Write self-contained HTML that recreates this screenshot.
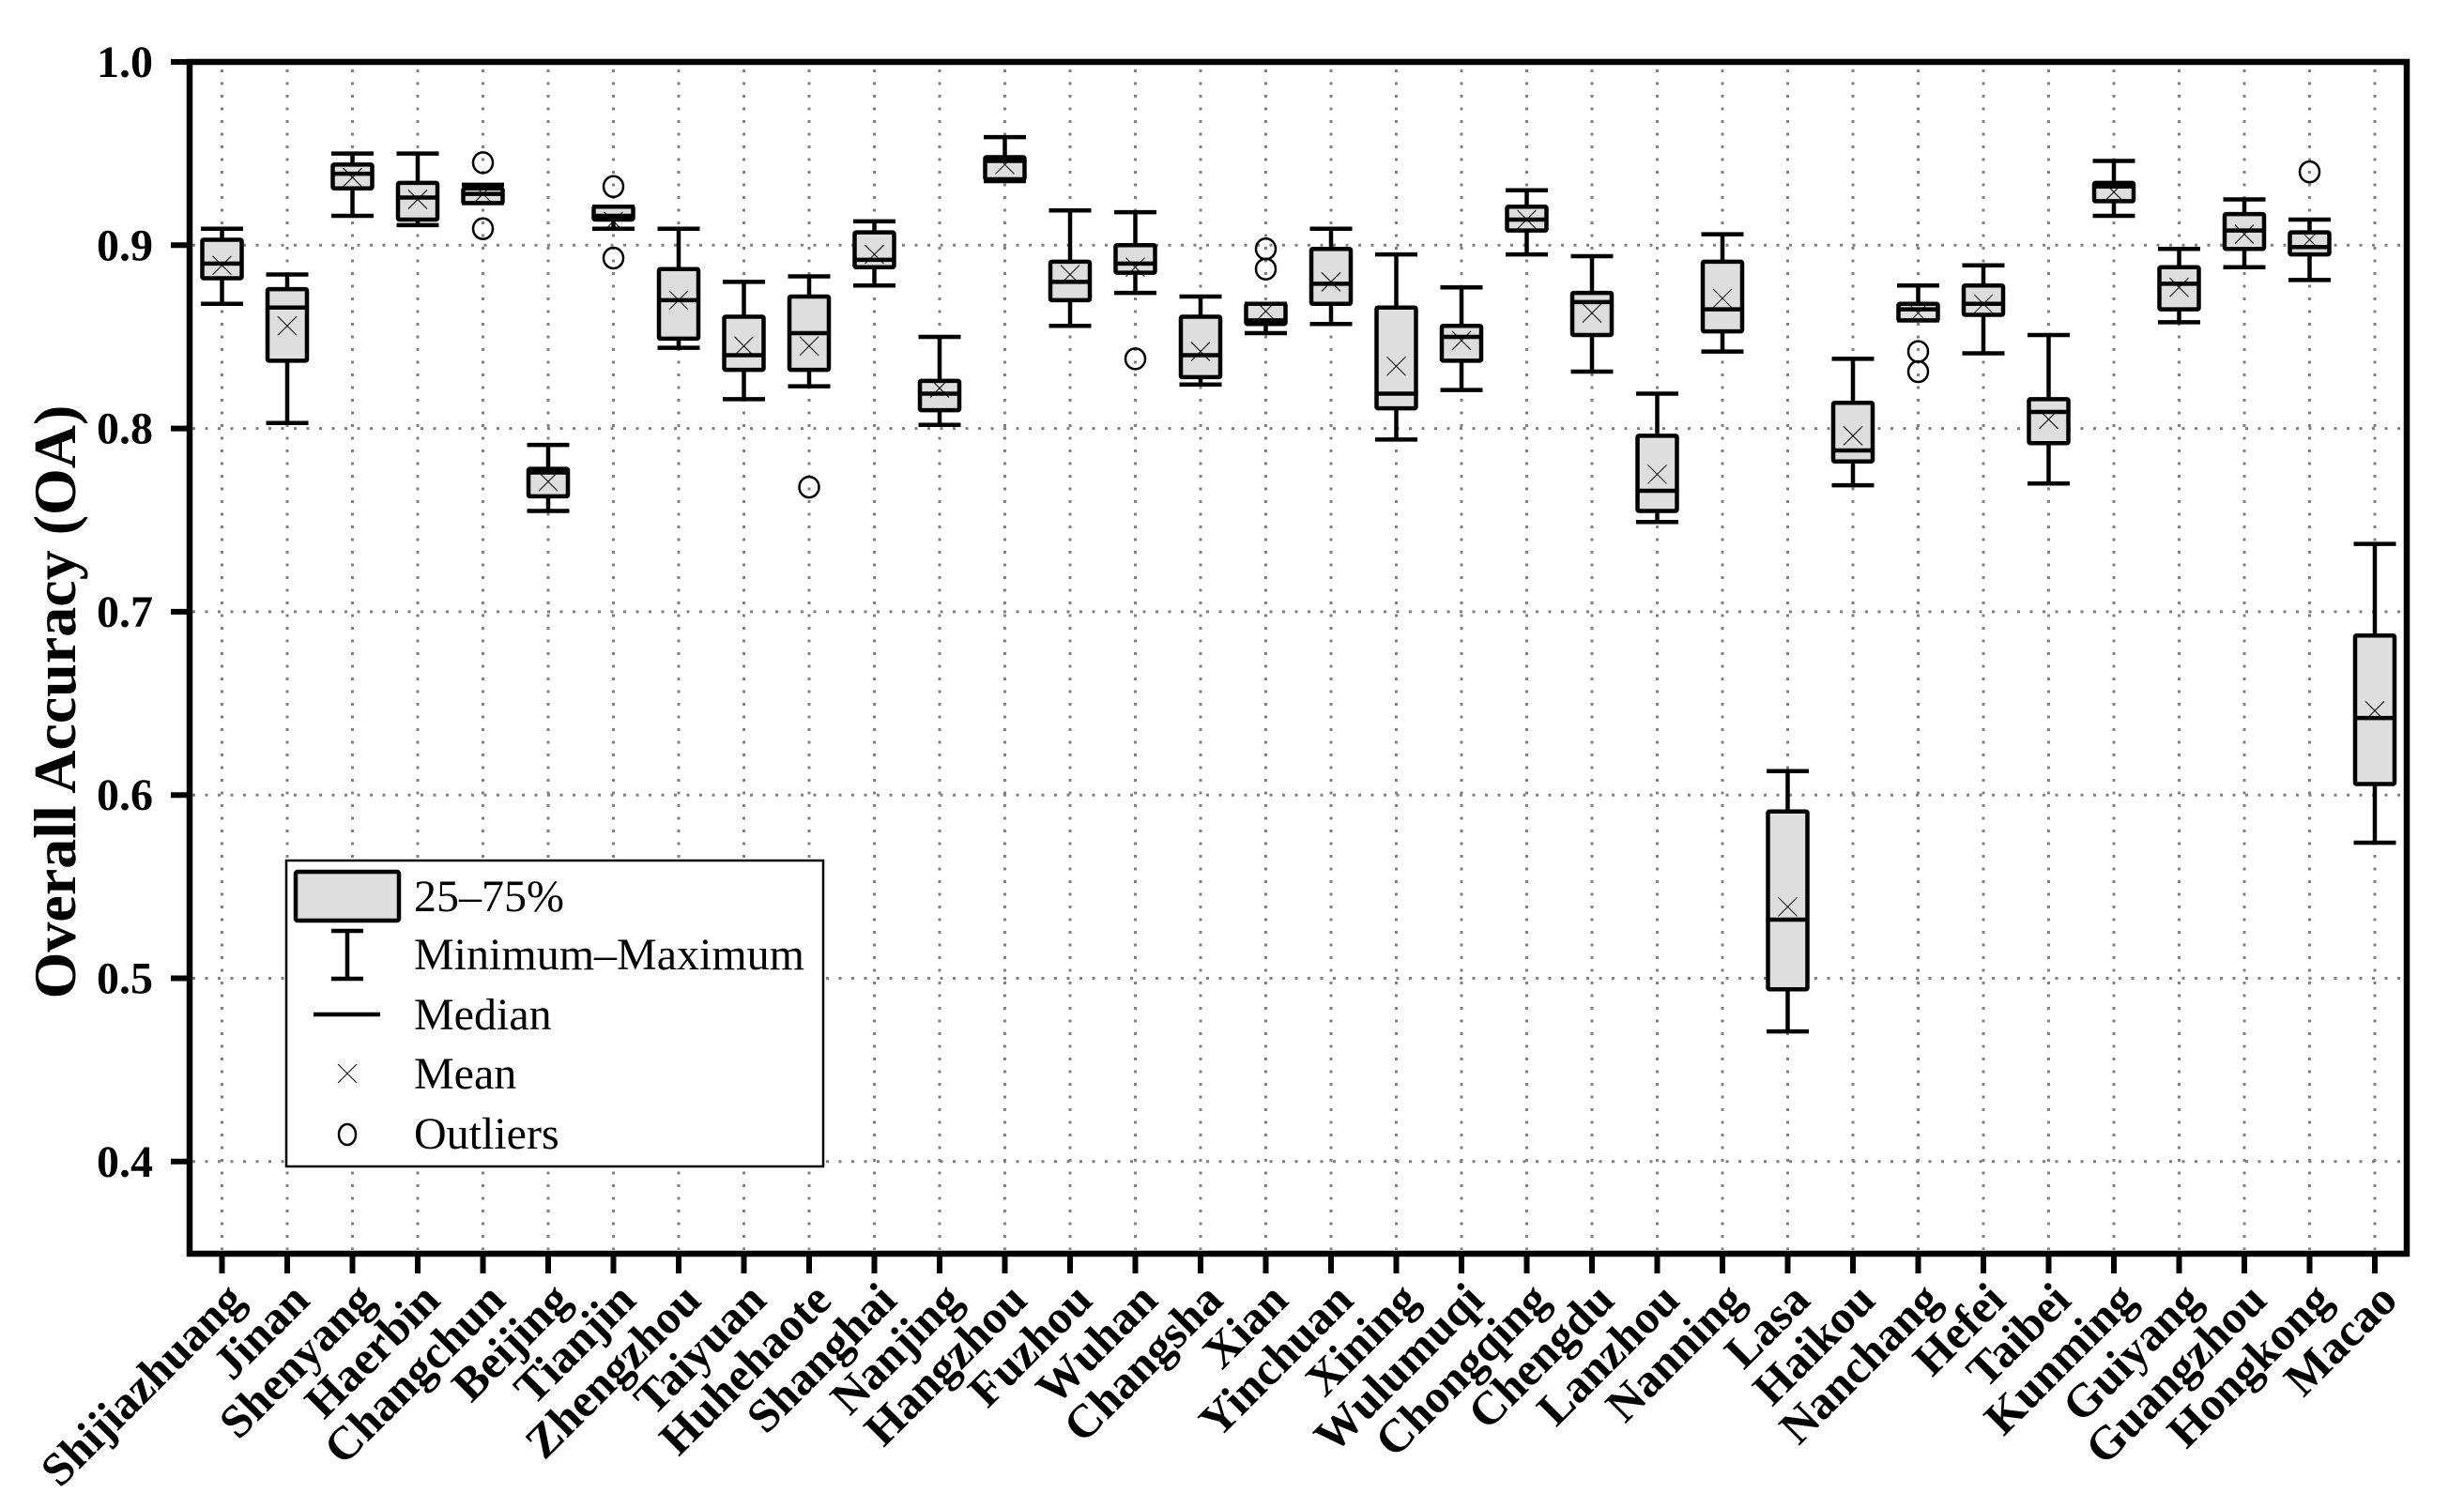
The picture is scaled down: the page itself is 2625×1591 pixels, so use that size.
<!DOCTYPE html>
<html><head><meta charset="utf-8"><style>
html,body{margin:0;padding:0;background:#fff;}
svg{display:block;}
</style></head><body>
<svg id="chart" width="2625" height="1591" viewBox="0 0 2625 1591" xmlns="http://www.w3.org/2000/svg" font-family="'Liberation Serif', serif">
<g id="grid"></g>
<g id="boxes"></g>
<g id="axes"></g>
<text transform="translate(80,748) rotate(-90)" text-anchor="middle" font-weight="bold" font-size="64">Overall Accuracy (OA)</text>
<g>
  <rect x="305" y="917" width="572" height="326" fill="#fff" stroke="#000" stroke-width="2.5"/>
  <rect x="315" y="929" width="110" height="52" rx="2" fill="#dedede" stroke="#000" stroke-width="4.5"/>
  <text x="441" y="971" font-size="48">25–75%</text>
  <line x1="370" y1="990" x2="370" y2="1045" stroke="#000" stroke-width="4.5"/>
  <line x1="353" y1="992" x2="387" y2="992" stroke="#000" stroke-width="4.5"/>
  <line x1="353" y1="1043" x2="387" y2="1043" stroke="#000" stroke-width="4.5"/>
  <text x="441" y="1033" font-size="48">Minimum–Maximum</text>
  <line x1="334" y1="1081" x2="405" y2="1081" stroke="#000" stroke-width="4.5"/>
  <text x="441" y="1097" font-size="48">Median</text>
  <path d="M360 1134 L380 1154 M380 1134 L360 1154" stroke="#000" stroke-width="1"/>
  <text x="441" y="1160" font-size="48">Mean</text>
  <ellipse cx="370" cy="1209" rx="9" ry="11" fill="none" stroke="#000" stroke-width="2.5"/>
  <text x="441" y="1224" font-size="48">Outliers</text>
</g>
</svg>
<script>
const cities = ["Shijiazhuang","Jinan","Shenyang","Haerbin","Changchun","Beijing","Tianjin","Zhengzhou","Taiyuan","Huhehaote","Shanghai","Nanjing","Hangzhou","Fuzhou","Wuhan","Changsha","Xian","Yinchuan","Xining","Wulumuqi","Chongqing","Chengdu","Lanzhou","Nanning","Lasa","Haikou","Nanchang","Hefei","Taibei","Kunming","Guiyang","Guangzhou","Hongkong","Macao"];
const minVals = [0.868,0.803,0.916,0.911,0.923,0.755,0.909,0.844,0.816,0.823,0.878,0.802,0.935,0.856,0.874,0.824,0.852,0.857,0.794,0.821,0.895,0.831,0.749,0.842,0.471,0.769,0.859,0.841,0.770,0.916,0.858,0.888,0.881,0.574];
const q1Vals = [0.882,0.837,0.931,0.914,0.923,0.763,0.914,0.849,0.832,0.832,0.888,0.810,0.936,0.870,0.885,0.828,0.857,0.868,0.811,0.837,0.908,0.851,0.755,0.853,0.494,0.782,0.859,0.862,0.792,0.924,0.865,0.898,0.895,0.606];
const medianVals = [0.890,0.866,0.939,0.926,0.928,0.776,0.916,0.870,0.840,0.852,0.892,0.819,0.946,0.880,0.890,0.840,0.859,0.879,0.819,0.850,0.914,0.869,0.766,0.865,0.532,0.788,0.865,0.868,0.809,0.932,0.879,0.908,0.899,0.642];
const q3Vals = [0.903,0.876,0.944,0.934,0.931,0.778,0.921,0.887,0.861,0.872,0.907,0.826,0.948,0.891,0.900,0.861,0.868,0.898,0.866,0.856,0.921,0.874,0.796,0.891,0.591,0.814,0.868,0.878,0.816,0.934,0.888,0.917,0.907,0.687];
const maxVals = [0.909,0.884,0.950,0.950,0.933,0.791,0.921,0.909,0.880,0.883,0.913,0.850,0.959,0.919,0.918,0.872,0.868,0.909,0.895,0.877,0.930,0.894,0.819,0.906,0.613,0.838,0.878,0.889,0.851,0.946,0.898,0.925,0.914,0.737];
const meanVals = [0.889,0.856,0.937,0.925,0.928,0.771,0.913,0.870,0.845,0.845,0.895,0.822,0.944,0.884,0.888,0.842,0.864,0.880,0.834,0.848,0.914,0.863,0.775,0.871,0.539,0.796,0.863,0.868,0.805,0.929,0.877,0.906,0.903,0.646];
const outlierCity = [4,4,6,6,9,14,16,16,26,26,32];
const outlierVals = [0.945,0.909,0.932,0.893,0.768,0.838,0.898,0.887,0.842,0.831,0.940];
const yTicks = [1.0,0.9,0.8,0.7,0.6,0.5,0.4];
const yTickLabels = ["1.0","0.9","0.8","0.7","0.6","0.5","0.4"];

const NS = "http://www.w3.org/2000/svg";
const L = 202, R = 2564, T = 66, B = 1336;
function yScale(v){ return 66 + (1 - v) * 1953; }
function xScale(i){ return 236.5 + i * 69.5; }
function mk(tag, attrs, parent){
  const e = document.createElementNS(NS, tag);
  for (const k in attrs) e.setAttribute(k, attrs[k]);
  parent.appendChild(e);
  return e;
}
const grid = document.getElementById('grid');
const boxes = document.getElementById('boxes');
const axes = document.getElementById('axes');
const gstyle = {stroke:'#808080','stroke-width':3,'stroke-dasharray':'3 10.5'};

yTicks.forEach((v,i)=>{
  const y = yScale(v);
  if (v < 1.0) {
    const g = mk('line', Object.assign({x1:L+3,x2:R-3,y1:y,y2:y}, gstyle), grid);
    
    
  }
  const t = mk('line', {x1:182,x2:L,y1:y,y2:y,stroke:'#000','stroke-width':6}, axes);
  
  
  const lb = mk('text', {x:163,y:y+16,'text-anchor':'end','font-weight':'bold','font-size':48}, axes);
  lb.textContent = yTickLabels[i];
  
  
});

cities.forEach((c,i)=>{
  const x = xScale(i);
  const g = mk('line', Object.assign({x1:x,x2:x,y1:T+8,y2:B-4}, gstyle), grid);
  
  
  const t = mk('line', {x1:x,x2:x,y1:B,y2:1357,stroke:'#000','stroke-width':6}, axes);
  
  
  const lb = mk('text', {transform:`translate(${x+26},${1388}) rotate(-45)`,'text-anchor':'end','font-weight':'bold','font-size':50}, axes);
  lb.textContent = c;
  
  

  const bg = mk('g', {}, boxes);
  
  
  const st = {stroke:'#000','stroke-width':4.5};
  const w1 = mk('line', Object.assign({x1:x,x2:x,y1:yScale(maxVals[i]),y2:yScale(q3Vals[i])}, st), bg);
  
  
  const w2 = mk('line', Object.assign({x1:x,x2:x,y1:yScale(q1Vals[i]),y2:yScale(minVals[i])}, st), bg);
  
  
  const c1 = mk('line', Object.assign({x1:x-22.5,x2:x+22.5,y1:yScale(maxVals[i]),y2:yScale(maxVals[i])}, st), bg);
  
  
  const c2 = mk('line', Object.assign({x1:x-22.5,x2:x+22.5,y1:yScale(minVals[i]),y2:yScale(minVals[i])}, st), bg);
  
  
  const yq3 = yScale(q3Vals[i]), yq1 = yScale(q1Vals[i]);
  const r = mk('rect', Object.assign({x:x-21,y:yq3,width:42,height:Math.max(yq1-yq3,1),fill:'#dedede',rx:1.5}, st), bg);
  
  
  const ym = yScale(medianVals[i]);
  const m = mk('line', Object.assign({x1:x-21,x2:x+21,y1:ym,y2:ym}, st), bg);
  
  
  const ymean = yScale(meanVals[i]);
  const mm = mk('path', {d:`M${x-10} ${ymean-10} L${x+10} ${ymean+10} M${x+10} ${ymean-10} L${x-10} ${ymean+10}`,stroke:'#000','stroke-width':1}, bg);
  
  
});

outlierCity.forEach((ci,k)=>{
  const o = mk('ellipse', {cx:xScale(ci),cy:yScale(outlierVals[k]),rx:10.5,ry:11,fill:'none',stroke:'#000','stroke-width':2.5}, boxes);
  
  
});

const frame = mk('rect', {x:L,y:T,width:R-L,height:B-T,fill:'none',stroke:'#000','stroke-width':6.5}, axes);


</script>
</body></html>
